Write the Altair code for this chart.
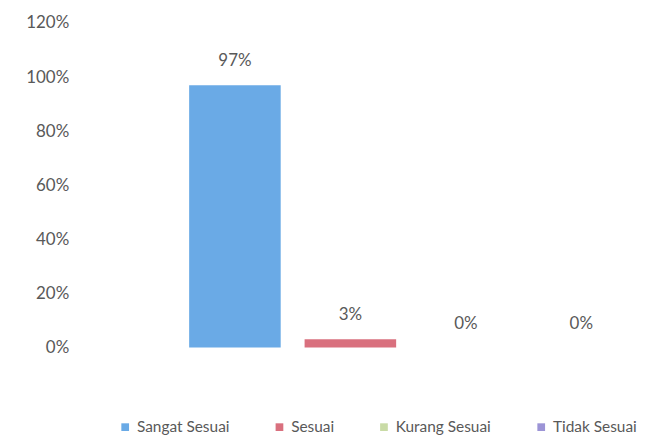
import altair as alt
import pandas as pd

categories = ["Sangat Sesuai", "Sesuai", "Kurang Sesuai", "Tidak Sesuai"]
values = [0.97, 0.03, 0.0, 0.0]
labels = ["97%", "3%", "0%", "0%"]
colors = ["#6aaae6", "#d9707e", "#c9dba6", "#9c94d6"]
y_ticks = [0, 0.2, 0.4, 0.6, 0.8, 1.0, 1.2]

df = pd.DataFrame({"cat": categories, "val": values, "lab": labels})

FONT = "Lato"
GREY = "#595959"

x = alt.X("cat:N", sort=categories,
          scale=alt.Scale(paddingInner=0.207, paddingOuter=0.1035),
          axis=None)
y = alt.Y("val:Q", scale=alt.Scale(domain=[0, 1.2], nice=False),
          axis=alt.Axis(values=y_ticks, format=".0%", title=None, domain=False,
                        ticks=False, grid=False, labelPadding=109,
                        labelFont=FONT, labelFontSize=17, labelColor=GREY))

bars = alt.Chart(df).mark_bar().encode(
    x=x, y=y,
    color=alt.Color("cat:N", sort=categories,
                    scale=alt.Scale(domain=categories, range=colors),
                    legend=alt.Legend(title=None, orient="none", direction="horizontal",
                                      legendX=-60, legendY=398,
                                      symbolType="square", symbolSize=60,
                                      symbolStrokeWidth=0, columnPadding=42,
                                      labelFont=FONT, labelFontSize=15.5,
                                      labelColor=GREY, labelOffset=4)),
)

text = alt.Chart(df).mark_text(baseline="bottom", dy=-15, font=FONT,
                               fontSize=17, color=GREY).encode(
    x=alt.X("cat:N", sort=categories), y="val:Q", text="lab:N")

chart = (bars + text).properties(
    width=464, height=326,
    padding={"left": 17, "top": 5, "right": 0, "bottom": 5},
).configure_view(stroke=None)

chart.save("out.html", embed_options={"renderer": "svg", "actions": False})
